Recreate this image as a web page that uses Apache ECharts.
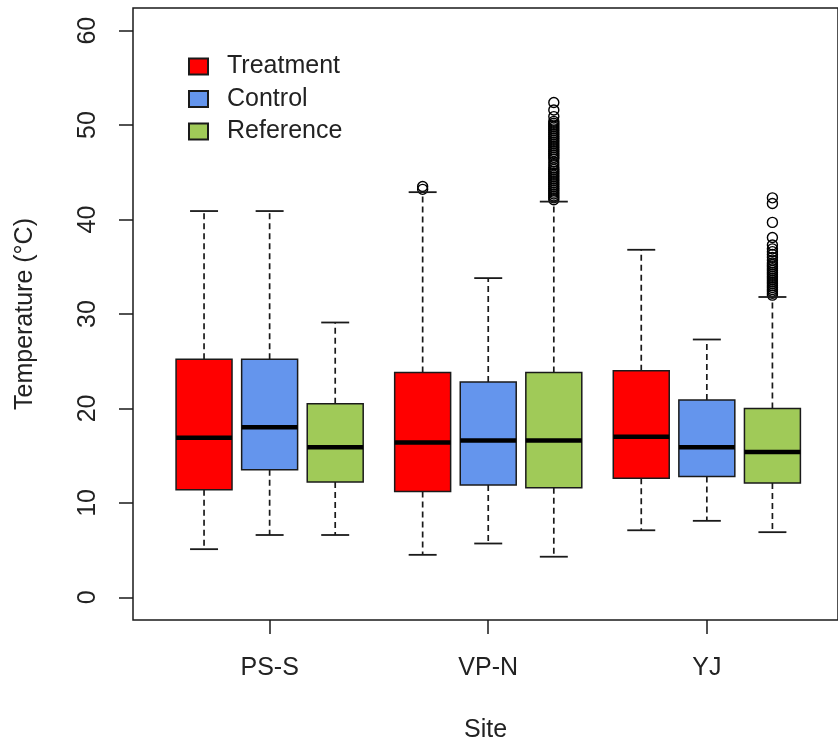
<!DOCTYPE html>
<html>
<head>
<meta charset="utf-8">
<script src="https://cdn.jsdelivr.net/npm/echarts@6/dist/echarts.min.js"></script>
<style>
  html, body { margin: 0; padding: 0; background: #fff; }
  #chart { width: 838px; height: 748px; }
</style>
</head>
<body>
<div id="chart"></div>
<script>
// Sites along the x axis and the three plot types at each site
const sites = ['PS-S', 'VP-N', 'YJ'];
const groups = ['Treatment', 'Control', 'Reference'];
const yTicks = [0, 10, 20, 30, 40, 50, 60];

// Five-number summaries per site: [lower whisker, Q1, median, Q3, upper whisker] (°C)
const treatment = [
  [5.1, 11.4, 16.9, 25.2, 40.9],
  [4.5, 11.2, 16.4, 23.8, 42.9],
  [7.1, 12.6, 17.0, 24.0, 36.8]
];
const control = [
  [6.6, 13.5, 18.0, 25.2, 40.9],
  [5.7, 11.9, 16.6, 22.8, 33.8],
  [8.1, 12.8, 15.9, 20.9, 27.3]
];
const reference = [
  [6.6, 12.2, 15.9, 20.5, 29.1],
  [4.3, 11.6, 16.6, 23.8, 41.9],
  [6.9, 12.1, 15.4, 20.0, 31.8]
];

// Outlying readings per site
const treatmentOutliers = [[], [43.2, 43.5], []];
const controlOutliers = [[], [], []];
const referenceOutliers = [
  [],
  [52.4, 51.6, 50.9, 50.4, 50.2, 50.0, 49.8, 49.6, 49.4, 49.2, 49.0, 48.8, 48.6,
   48.4, 48.2, 48.0, 47.8, 47.6, 47.4, 47.2, 47.0, 46.8, 46.6, 46.4, 46.1, 45.8,
   45.5, 45.3, 45.1, 44.9, 44.7, 44.5, 44.3, 44.1, 43.9, 43.7, 43.5, 43.3, 43.1,
   42.9, 42.7, 42.5, 42.3, 42.1],
  [42.3, 41.7, 39.7, 38.1, 37.3, 36.9, 36.6, 36.3, 36.0, 35.7, 35.4, 35.2, 35.0,
   34.8, 34.6, 34.4, 34.2, 34.0, 33.8, 33.6, 33.4, 33.2, 33.0, 32.8, 32.6, 32.4,
   32.2, 32.0]
];

const summaries = [treatment, control, reference];
const outliers = [treatmentOutliers, controlOutliers, referenceOutliers];
const fills = ['#FF0000', '#6495ED', '#A0CA58'];
const OFFSETS = [-0.3, 0, 0.3];
const BOX_WIDTH = 0.256;
const INK = '#1a1a1a';

function renderBox(params, api) {
  const x = api.value(0);
  const lo = api.coord([x, api.value(1)]);
  const q1 = api.coord([x, api.value(2)]);
  const med = api.coord([x, api.value(3)]);
  const q3 = api.coord([x, api.value(4)]);
  const hi = api.coord([x, api.value(5)]);
  const w = api.size([BOX_WIDTH, 0])[0];
  const cx = lo[0];
  const dashed = { stroke: INK, lineWidth: 1.7, lineDash: [6, 4] };
  const solid = { stroke: INK, lineWidth: 1.8 };
  return {
    type: 'group',
    children: [
      { type: 'line', shape: { x1: cx, y1: q3[1], x2: cx, y2: hi[1] }, style: dashed },
      { type: 'line', shape: { x1: cx, y1: q1[1], x2: cx, y2: lo[1] }, style: dashed },
      { type: 'line', shape: { x1: cx - w / 4, y1: hi[1], x2: cx + w / 4, y2: hi[1] }, style: solid },
      { type: 'line', shape: { x1: cx - w / 4, y1: lo[1], x2: cx + w / 4, y2: lo[1] }, style: solid },
      { type: 'rect', shape: { x: cx - w / 2, y: q3[1], width: w, height: q1[1] - q3[1] },
        style: { fill: fills[params.seriesIndex], stroke: INK, lineWidth: 1.5 } },
      { type: 'line', shape: { x1: cx - w / 2, y1: med[1], x2: cx + w / 2, y2: med[1] },
        style: { stroke: '#000', lineWidth: 4.5 } }
    ]
  };
}

const boxSeries = groups.map((g, gi) => ({
  name: g,
  type: 'custom',
  renderItem: renderBox,
  itemStyle: { color: fills[gi], borderColor: INK, borderWidth: 1.5 },
  encode: { x: 0, y: [1, 2, 3, 4, 5] },
  data: summaries[gi].map((s, si) => [si + 1 + OFFSETS[gi]].concat(s)),
  z: 3
}));

const outlierSeries = groups.map((g, gi) => ({
  name: g + ' outliers',
  type: 'scatter',
  symbol: 'circle',
  symbolSize: 10,
  itemStyle: { color: 'rgba(0,0,0,0)', borderColor: '#000', borderWidth: 1.4, opacity: 1 },
  data: outliers[gi].flatMap((vals, si) => vals.map(v => [si + 1 + OFFSETS[gi], v])),
  z: 2,
  silent: true
}));

const chart = echarts.init(document.getElementById('chart'), null, { renderer: 'canvas' });
const font = '"Liberation Sans", Arial, sans-serif';

chart.setOption({
  animation: false,
  backgroundColor: '#fff',
  textStyle: { fontFamily: font },
  grid: {
    show: true,
    left: 133, top: 8, width: 706, height: 613,
    borderColor: INK, borderWidth: 1.5,
    backgroundColor: 'transparent'
  },
  legend: {
    data: groups,
    orient: 'vertical',
    left: 183, top: 49,
    icon: 'rect',
    itemWidth: 19, itemHeight: 16,
    itemGap: 7.5,
    textStyle: { fontSize: 25, color: '#222', fontFamily: font, padding: [0, 0, 0, 14] }
  },
  xAxis: {
    type: 'value',
    min: 0.375, max: 3.6,
    name: 'Site',
    nameLocation: 'middle',
    nameGap: 98,
    nameTextStyle: { fontSize: 25, color: '#222', fontFamily: font },
    axisLine: { show: false, onZero: false },
    splitLine: { show: false },
    axisTick: { show: true, length: 14, lineStyle: { color: INK, width: 1.5 }, customValues: sites.map((s, i) => i + 1) },
    axisLabel: {
      margin: 36, fontSize: 25, color: '#222', fontFamily: font,
      customValues: sites.map((s, i) => i + 1),
      formatter: v => sites[Math.round(v) - 1]
    }
  },
  yAxis: {
    type: 'value',
    min: -2.4, max: 62.4,
    name: 'Temperature (°C)',
    nameLocation: 'middle',
    nameGap: 95,
    nameTextStyle: { fontSize: 25, color: '#222', fontFamily: font },
    axisLine: { show: false, onZero: false },
    splitLine: { show: false },
    axisTick: { show: true, length: 14, lineStyle: { color: INK, width: 1.5 }, customValues: yTicks },
    axisLabel: {
      rotate: 90, margin: 32, fontSize: 25, color: '#222', fontFamily: font,
      customValues: yTicks
    }
  },
  series: boxSeries.concat(outlierSeries)
});
</script>
</body>
</html>
